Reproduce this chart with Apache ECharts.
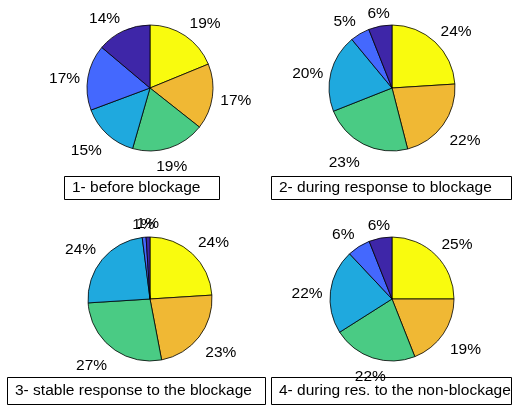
<!DOCTYPE html>
<html>
<head>
<meta charset="utf-8">
<script src="https://cdn.jsdelivr.net/npm/echarts@6/dist/echarts.min.js"></script>
<style>
  html, body { margin: 0; padding: 0; background: #fff; }
  #chart { width: 529px; height: 406px; }
</style>
</head>
<body>
<div id="chart"></div>
<script>
// Slice shares (%) for each phase, clockwise from 12 o'clock
const beforeBlockage   = [19, 17, 19, 15, 17, 14];
const duringResponse   = [24, 22, 23, 20, 5, 6];
const stableResponse   = [24, 23, 27, 24, 1, 1];
const duringNonBlock   = [25, 19, 22, 22, 6, 6];

const panelTitles = [
  '1- before blockage',
  '2- during response to blockage',
  '3- stable response to the blockage',
  '4- during res. to the non-blockage'
];

const sliceColors = ['#F9FB0E', '#F0B834', '#4ACB84', '#1FA9DE', '#4468FE', '#3E26A8'];

const FONT = "'Liberation Sans', Arial, Helvetica, sans-serif";
const FONT_SIZE = 15.5;

// Pie placement: center [x, y] and radius in pixels
const panels = [
  { values: beforeBlockage, center: [150, 88],  r: 63 },
  { values: duringResponse, center: [392, 88],  r: 63 },
  { values: stableResponse, center: [150, 299], r: 62 },
  { values: duringNonBlock, center: [392, 299], r: 62 }
];

// Text boxes under each pie: [x, y, w, h]
const boxes = [
  [64, 176, 155, 23],
  [271, 176, 240, 23],
  [7, 377, 258, 27],
  [271, 377, 240, 27]
];

// Percent labels sit just outside the rim, aligned away from the pie
function percentLabelLayout(p) {
  const panel = panels[p.seriesIndex];
  const vals = panel.values;
  const total = vals.reduce((a, b) => a + b, 0);
  let acc = 0;
  for (let i = 0; i < p.dataIndex; i++) acc += vals[i];
  const mid = (acc + vals[p.dataIndex] / 2) / total * Math.PI * 2;
  const dx = Math.sin(mid);
  const dy = -Math.cos(mid);
  const R = panel.r + 8;
  const align = Math.abs(dx) < 0.4 ? 'center' : (dx > 0 ? 'left' : 'right');
  const verticalAlign = Math.abs(dy) < 0.5 ? 'middle' : (dy > 0 ? 'top' : 'bottom');
  return {
    x: panel.center[0] + R * dx,
    y: panel.center[1] + R * dy + 3,
    align: align,
    verticalAlign: verticalAlign
  };
}

const series = panels.map(function (panel) {
  return {
    type: 'pie',
    z: 5,
    center: panel.center,
    radius: panel.r,
    startAngle: 90,
    clockwise: true,
    avoidLabelOverlap: false,
    silent: true,
    animation: false,
    itemStyle: { borderColor: '#000', borderWidth: 0.8 },
    label: {
      show: true,
      position: 'outside',
      formatter: '{c}%',
      color: '#000',
      fontSize: FONT_SIZE,
      fontFamily: FONT
    },
    labelLine: { show: false },
    labelLayout: percentLabelLayout,
    emphasis: { disabled: true },
    data: panel.values.map(function (v, i) {
      return { value: v, name: 'slice' + (i + 1), itemStyle: { color: sliceColors[i] } };
    })
  };
});

// Caption boxes: outline only, drawn beneath the pies so stray labels stay visible
const graphics = [];
boxes.forEach(function (b, i) {
  graphics.push({
    type: 'rect',
    shape: { x: b[0] + 0.5, y: b[1] + 0.5, width: b[2], height: b[3] },
    style: { fill: 'none', stroke: '#000', lineWidth: 1 },
    z: 1
  });
  graphics.push({
    type: 'text',
    x: b[0] + 8,
    y: b[1] + b[3] / 2 + 0.5,
    style: {
      text: panelTitles[i],
      fill: '#000',
      font: FONT_SIZE + 'px ' + FONT,
      verticalAlign: 'middle',
      align: 'left'
    },
    z: 1
  });
});

const chart = echarts.init(document.getElementById('chart'), null, { renderer: 'canvas' });
chart.setOption({
  backgroundColor: '#fff',
  animation: false,
  series: series,
  graphic: graphics
});
</script>
</body>
</html>
